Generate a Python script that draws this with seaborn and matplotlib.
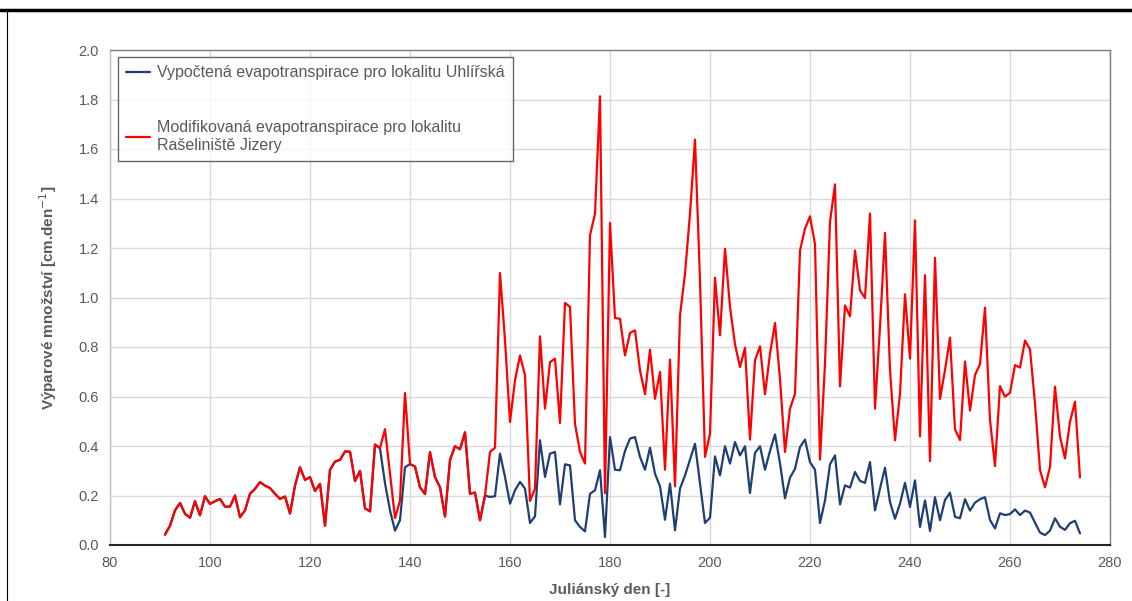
import numpy as np
import pandas as pd
import matplotlib
matplotlib.use("Agg")
import matplotlib.pyplot as plt
from matplotlib.lines import Line2D
import seaborn as sns

# Daily evapotranspiration [cm/day], Julian days 91-274
first_day = 91

et_jizera = [
    0.042, 0.078, 0.14, 0.17, 0.126, 0.11, 0.177, 0.12, 0.197, 0.166,
    0.177, 0.186, 0.155, 0.155, 0.2, 0.112, 0.14, 0.207, 0.227, 0.254,
    0.24, 0.23, 0.207, 0.186, 0.196, 0.127, 0.24, 0.314, 0.263, 0.274,
    0.218, 0.247, 0.078, 0.304, 0.337, 0.344, 0.378, 0.377, 0.258, 0.30,
    0.148, 0.136, 0.406, 0.392, 0.468, 0.29, 0.109, 0.179, 0.614, 0.327,
    0.317, 0.233, 0.206, 0.375, 0.274, 0.233, 0.115, 0.344, 0.399, 0.387,
    0.455, 0.207, 0.212, 0.10, 0.20, 0.376, 0.393, 1.099, 0.827, 0.497,
    0.665, 0.766, 0.686, 0.178, 0.228, 0.843, 0.551, 0.739, 0.753, 0.493,
    0.978, 0.962, 0.49, 0.376, 0.329, 1.251, 1.339, 1.813, 0.21, 1.301,
    0.917, 0.914, 0.766, 0.857, 0.867, 0.706, 0.609, 0.789, 0.591, 0.699,
    0.304, 0.749, 0.237, 0.928, 1.096, 1.339, 1.638, 1.069, 0.356, 0.45,
    1.08, 0.847, 1.197, 0.962, 0.811, 0.719, 0.797, 0.426, 0.746, 0.803,
    0.609, 0.773, 0.897, 0.67, 0.376, 0.551, 0.611, 1.19, 1.278, 1.328,
    1.215, 0.345, 0.733, 1.305, 1.457, 0.641, 0.968, 0.924, 1.19, 1.029,
    0.998, 1.339, 0.551, 0.881, 1.261, 0.706, 0.423, 0.611, 1.013, 0.753,
    1.312, 0.439, 1.09, 0.339, 1.16, 0.59, 0.707, 0.838, 0.467, 0.424,
    0.741, 0.543, 0.687, 0.731, 0.959, 0.505, 0.319, 0.642, 0.599, 0.615,
    0.727, 0.717, 0.826, 0.791, 0.572, 0.303, 0.233, 0.316, 0.64, 0.438,
    0.35, 0.498, 0.579, 0.273,
]

et_uhlirska = [
    0.042, 0.078, 0.14, 0.17, 0.126, 0.11, 0.177, 0.12, 0.197, 0.166,
    0.177, 0.186, 0.155, 0.155, 0.2, 0.112, 0.14, 0.207, 0.227, 0.254,
    0.24, 0.23, 0.207, 0.186, 0.196, 0.127, 0.24, 0.314, 0.263, 0.274,
    0.218, 0.247, 0.078, 0.304, 0.337, 0.344, 0.378, 0.377, 0.258, 0.30,
    0.148, 0.136, 0.406, 0.39, 0.25, 0.14, 0.058, 0.10, 0.314, 0.327,
    0.317, 0.233, 0.206, 0.375, 0.274, 0.233, 0.115, 0.344, 0.399, 0.387,
    0.455, 0.207, 0.212, 0.10, 0.20, 0.194, 0.197, 0.369, 0.275, 0.167,
    0.221, 0.255, 0.228, 0.089, 0.116, 0.423, 0.275, 0.369, 0.376, 0.164,
    0.326, 0.322, 0.10, 0.073, 0.055, 0.207, 0.221, 0.302, 0.032, 0.436,
    0.304, 0.302, 0.38, 0.43, 0.436, 0.356, 0.304, 0.393, 0.288, 0.237,
    0.102, 0.248, 0.059, 0.228, 0.281, 0.345, 0.409, 0.248, 0.089, 0.11,
    0.358, 0.281, 0.399, 0.329, 0.416, 0.362, 0.399, 0.21, 0.372, 0.399,
    0.304, 0.38, 0.447, 0.33, 0.189, 0.272, 0.308, 0.396, 0.426, 0.335,
    0.304, 0.089, 0.18, 0.326, 0.362, 0.164, 0.241, 0.232, 0.295, 0.259,
    0.251, 0.335, 0.14, 0.228, 0.312, 0.174, 0.106, 0.167, 0.251, 0.154,
    0.261, 0.073, 0.18, 0.057, 0.193, 0.10, 0.182, 0.211, 0.114, 0.108,
    0.185, 0.139, 0.171, 0.185, 0.193, 0.101, 0.067, 0.128, 0.121, 0.125,
    0.144, 0.121, 0.139, 0.131, 0.09, 0.05, 0.04, 0.058, 0.108, 0.074,
    0.061, 0.088, 0.098, 0.047,
]

label_uhlirska = "Vypočtená evapotranspirace pro lokalitu Uhlířská"
label_jizera = "Modifikovaná evapotranspirace pro lokalitu\nRašeliniště Jizery"
x_ticks = [80, 100, 120, 140, 160, 180, 200, 220, 240, 260, 280]
y_ticks = [0.0, 0.2, 0.4, 0.6, 0.8, 1.0, 1.2, 1.4, 1.6, 1.8, 2.0]

days = np.arange(first_day, first_day + len(et_jizera))
df = pd.DataFrame({
    "day": np.concatenate([days, days]),
    "et": et_uhlirska + et_jizera,
    "series": [label_uhlirska] * len(days) + [label_jizera] * len(days),
})

sns.set_theme(style="whitegrid")
plt.rcParams["font.family"] = ["Liberation Sans", "DejaVu Sans"]

text_grey = "#595959"
blue = "#1F3F73"
red = "#FF0000"

fig = plt.figure(figsize=(11.32, 6.01), dpi=100)
ax = fig.add_axes([110 / 1132, 56 / 601, 1000 / 1132, 495 / 601])

sns.lineplot(data=df, x="day", y="et", hue="series",
             palette={label_uhlirska: blue, label_jizera: red},
             hue_order=[label_uhlirska, label_jizera],
             linewidth=1.6, ax=ax, legend=False, sort=False)
# modified series drawn above the computed one
ax.lines[0].set_zorder(2)
ax.lines[1].set_zorder(3)

ax.set_xlim(80, 280)
ax.set_ylim(0, 2.0)
ax.set_xticks(x_ticks)
ax.set_yticks(y_ticks)
ax.set_yticklabels([f"{v:.1f}" for v in y_ticks])
ax.tick_params(axis="both", colors=text_grey, labelsize=10.5, length=0, pad=8)
ax.grid(True, color="#D9D9D9", linewidth=1.0)

for side in ["top", "right", "left"]:
    ax.spines[side].set_visible(True)
    ax.spines[side].set_color("#7F7F7F")
    ax.spines[side].set_linewidth(1.0)
ax.spines["left"].set_color("#BFBFBF")
ax.spines["bottom"].set_color("#262626")
ax.spines["bottom"].set_linewidth(1.5)

ax.set_xlabel("Juliánský den [-]", color=text_grey, fontsize=11,
              fontweight="bold", labelpad=9)
ax.set_ylabel("Výparové množství [cm.den$^{-1}$]", color=text_grey,
              fontsize=11, fontweight="bold", labelpad=14)

handles = [Line2D([0], [0], color=blue, lw=1.6),
           Line2D([0], [0], color=red, lw=1.6)]
leg = ax.legend(handles, [label_uhlirska, label_jizera],
                loc="upper left", bbox_to_anchor=(0.008, 0.985),
                frameon=True, fancybox=False, fontsize=11.5,
                handlelength=1.5, handletextpad=0.45, labelspacing=2.5,
                borderpad=0.5, borderaxespad=0.0, labelcolor=text_grey)
leg.get_frame().set_edgecolor("#404040")
leg.get_frame().set_linewidth(1.0)
leg.set_zorder(5)

# page frame around the figure
fig.add_artist(Line2D([0, 1], [1 - 10 / 601, 1 - 10 / 601],
                      transform=fig.transFigure, color="black", lw=2.5))
fig.add_artist(Line2D([7 / 1132, 7 / 1132], [0, 1 - 10 / 601],
                      transform=fig.transFigure, color="black", lw=0.8))

fig.savefig("out.png", dpi=100)
